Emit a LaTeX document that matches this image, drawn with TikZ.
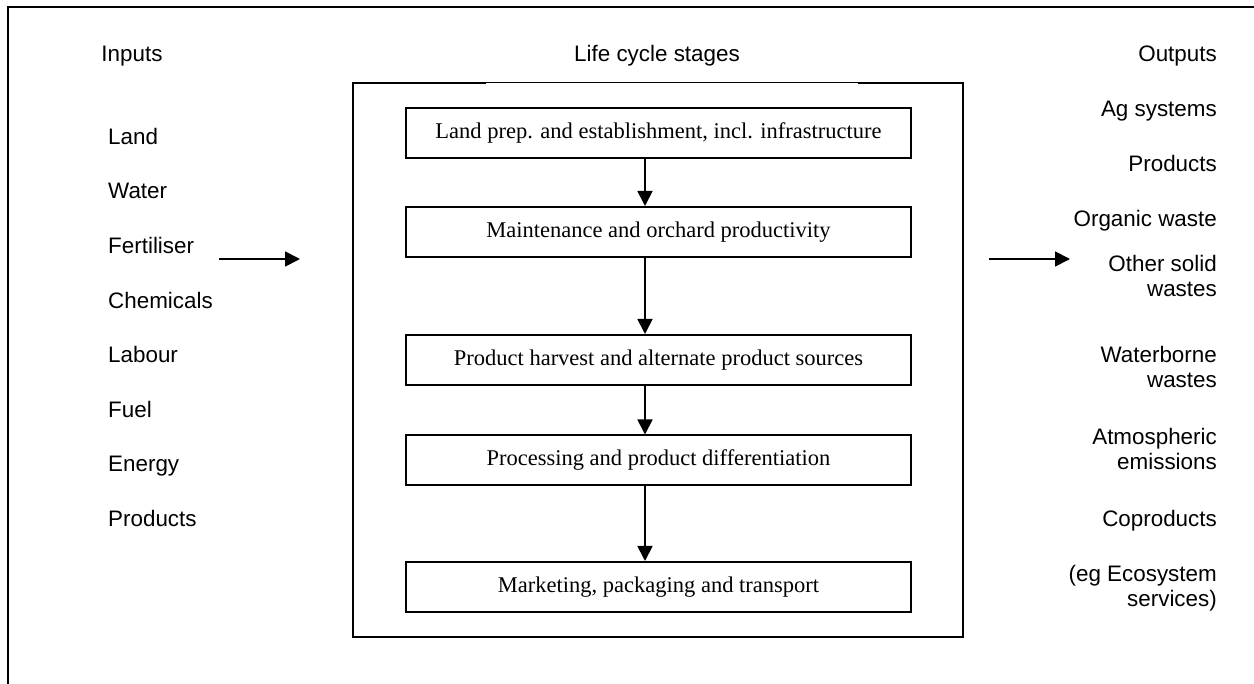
\documentclass[tikz,border=0pt]{standalone}
\usepackage{fontspec}
\setmainfont{Liberation Sans}
\newfontfamily\stagefont{Liberation Serif}
\usetikzlibrary{arrows.meta}
\begin{document}
\begin{tikzpicture}[x=1pt,y=-1pt,
  lbl/.style={font=\fontsize{22.4}{25}\selectfont, inner sep=0pt},
  inlbl/.style={lbl, anchor=base west},
  outlbl/.style={lbl, anchor=base east},
  stagebox/.style={draw, line width=2pt, minimum width=505pt, minimum height=50pt,
    inner sep=0pt, font=\stagefont\fontsize{22.5}{26}\selectfont},
  flow/.style={line width=1.8pt, -{Triangle[length=15pt,width=15pt]}},
  frame/.style={line width=2.4pt},
]
\useasboundingbox (0,0) rectangle (1254,684);

% outer frame (top and left edges)
\draw[frame] (8,684) -- (8,7) -- (1256,7);

% column headings
\node[lbl, anchor=base] (hin) at (132,62) {Inputs};
\node[lbl, anchor=base] (hstage) at (657,62) {Life cycle stages};
\node[outlbl] (hout) at (1217,62) {Outputs};

% inputs
\node[inlbl] (i1) at (108,145) {Land};
\node[inlbl] (i2) at (108,199) {Water};
\node[inlbl] (i3) at (108,254) {Fertiliser};
\node[inlbl] (i4) at (108,309) {Chemicals};
\node[inlbl] (i5) at (108,363) {Labour};
\node[inlbl] (i6) at (108,418) {Fuel};
\node[inlbl] (i7) at (108,472) {Energy};
\node[inlbl] (i8) at (108,526) {Products};

% outputs
\node[outlbl] (o1) at (1217,117) {Ag systems};
\node[outlbl] (o2) at (1217,172) {Products};
\node[outlbl] (o3) at (1217,227) {Organic waste};
\node[outlbl] (o4a) at (1217,272) {Other solid};
\node[outlbl] (o4b) at (1217,297) {wastes};
\node[outlbl] (o5a) at (1217,363) {Waterborne};
\node[outlbl] (o5b) at (1217,388) {wastes};
\node[outlbl] (o6a) at (1217,445) {Atmospheric};
\node[outlbl] (o6b) at (1217,470) {emissions};
\node[outlbl] (o7) at (1217,526) {Coproducts};
\node[outlbl] (o8a) at (1217,581) {(eg Ecosystem};
\node[outlbl] (o8b) at (1217,606) {services)};

% life cycle enclosure
\draw[frame] (486,83) -- (353,83) -- (353,637) -- (963,637) -- (963,83) -- (858,83);
\draw[line width=1pt] (486,83) -- (858,83);

% stages
\node[stagebox] (s1) at (658.5,133) {Land prep. and establishment, incl. infrastructure};
\node[stagebox] (s2) at (658.5,232) {Maintenance and orchard productivity};
\node[stagebox] (s3) at (658.5,360) {Product harvest and alternate product sources};
\node[stagebox] (s4) at (658.5,460.5) {Processing and product differentiation};
\node[stagebox] (s5) at (658.5,587) {Marketing, packaging and transport};

\coordinate (ax) at (645,0);
\draw[flow] (s1.south -| ax) -- (s2.north -| ax);
\draw[flow] (s2.south -| ax) -- (s3.north -| ax);
\draw[flow] (s3.south -| ax) -- (s4.north -| ax);
\draw[flow] (s4.south -| ax) -- (s5.north -| ax);

% inputs in, outputs out
\coordinate (inA) at (219,259);
\coordinate (inB) at (300,259);
\coordinate (outA) at (989,259);
\coordinate (outB) at (1070,259);
\draw[flow] (inA) -- (inB);
\draw[flow] (outA) -- (outB);
\end{tikzpicture}
\end{document}
